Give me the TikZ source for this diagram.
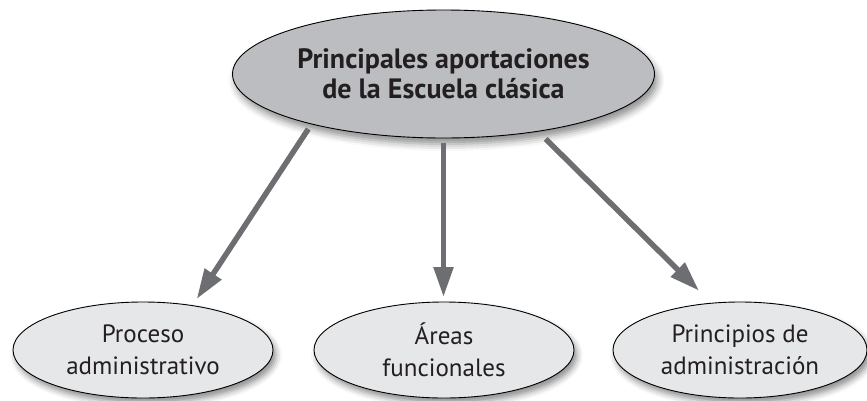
\documentclass[tikz,border=0pt]{standalone}
\usepackage{fontspec}
\setmainfont{PT Sans}
\usetikzlibrary{shapes.geometric,arrows.meta,shadows.blur}
\definecolor{topfill}{HTML}{BCBDC0}
\definecolor{subfill}{HTML}{E6E7E8}
\definecolor{arrowgray}{HTML}{6D6E71}
\definecolor{textgray}{HTML}{231F20}
\tikzset{
  mainbox/.style={ellipse, draw=black, line width=0.9pt, fill=topfill, inner sep=0pt,
    minimum width=422pt, minimum height=128pt, align=center, text=textgray,
    font=\fontsize{28}{30}\selectfont\bfseries,
    blur shadow={shadow xshift=3pt, shadow yshift=-6pt, shadow blur radius=7pt, shadow opacity=45}},
  subbox/.style={ellipse, draw=black, line width=0.9pt, fill=subfill, inner sep=0pt,
    minimum width=260pt, minimum height=96pt, align=center, text=textgray,
    font=\fontsize{25}{32}\selectfont,
    blur shadow={shadow xshift=3pt, shadow yshift=-5pt, shadow blur radius=6pt, shadow opacity=45}},
  link/.style={draw=arrowgray, line width=5.5pt,
    -{Triangle[length=30pt,width=19pt]}, shorten >=0pt}
}
\begin{document}
\begin{tikzpicture}[x=1pt,y=-1pt]
\useasboundingbox (0,0) rectangle (867,400);
\node[mainbox] (top) at (443.5,74) {Principales aportaciones\\de la Escuela clásica};
\node[subbox] (left) at (143,350) {Proceso\\administrativo};
\node[subbox] (mid) at (444,350) {Áreas\\funcionales};
\node[subbox, minimum width=254pt] (right) at (740,350) {Principios de\\administración};
\coordinate (s1) at (308.3,129);
\coordinate (t1) at (196.7,299);
\coordinate (s2) at (443.5,143);
\coordinate (t2) at (443.5,297);
\coordinate (s3) at (545.7,139);
\coordinate (t3) at (699,290.7);
\draw[link] (s1) -- (t1);
\draw[link] (s2) -- (t2);
\draw[link] (s3) -- (t3);
\end{tikzpicture}
\end{document}
